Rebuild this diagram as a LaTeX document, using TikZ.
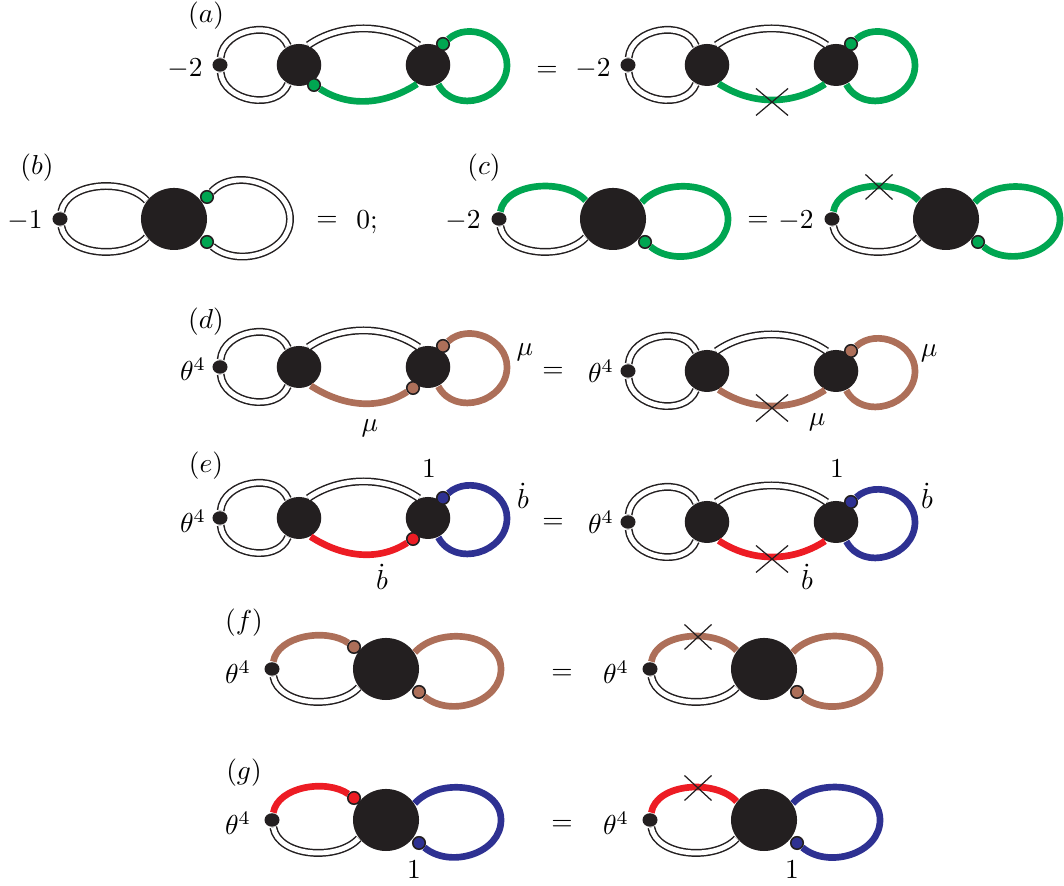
\documentclass[tikz,border=0pt]{standalone}
\usepackage{amsmath}
\usetikzlibrary{shapes,positioning}
\definecolor{ink}{HTML}{231F20}
\definecolor{sgreen}{HTML}{00A651}
\definecolor{sbrown}{HTML}{AD6F59}
\definecolor{sred}{HTML}{ED1C24}
\definecolor{sblue}{HTML}{2E3192}

\tikzstyle{vdot}=[ellipse,fill=ink,inner sep=0pt,minimum width=.15cm,minimum height=.135cm]
\tikzstyle{blob}=[ellipse,fill=ink,inner sep=0pt,minimum width=.445cm,minimum height=.42cm]
\tikzstyle{bigblob}=[ellipse,fill=ink,inner sep=0pt,minimum width=.66cm,minimum height=.62cm]
\tikzstyle{ins}=[circle,draw=ink,line width=.45pt,inner sep=0pt,minimum size=.125cm]
\tikzstyle{dbl}=[draw=ink,line width=.42pt,double=white,double distance=1.4pt]
\tikzstyle{heavy}=[line width=1.9pt]
\tikzstyle{txt}=[scale=.78,inner sep=0pt]
\tikzstyle{xmark}=[cross out,draw=ink,line width=.35pt,inner sep=0pt,outer sep=0pt,minimum width=.32cm,minimum height=.27cm]
\tikzstyle{xsmall}=[cross out,draw=ink,line width=.35pt,inner sep=0pt,outer sep=0pt,minimum width=.27cm,minimum height=.25cm]

\tikzstyle{smalltop}=[out=85,in=112,looseness=1.1]
\tikzstyle{smallbot}=[out=-85,in=-112,looseness=1.1]
\tikzstyle{midtop}=[out=35,in=145,looseness=.9]
\tikzstyle{midbot}=[out=-33,in=-147,looseness=.95]
\tikzstyle{arcin}=[out=42,in=90,looseness=1.1]
\tikzstyle{arcout}=[out=-90,in=-62,looseness=1.25]
\tikzstyle{bigtop}=[out=80,in=132,looseness=.9]
\tikzstyle{bigbot}=[out=-80,in=-132,looseness=.9]
\tikzstyle{instop}=[out=80,in=145,looseness=.88]
\tikzstyle{ellin}=[out=48,in=90,looseness=1.05]
\tikzstyle{ellout}=[out=-90,in=-40,looseness=1.05]

\begin{document}
\begin{tikzpicture}[x=.01cm,y=.01cm]
    \useasboundingbox (0,0) rectangle (1064,886);

    % (a)
    \node[txt](alabel) at (206,870){$(a)$};
    \node[txt](a1coef) at (185,817){$-2$};
    \node[vdot](a1dot) at (220,821){};
    \node[blob](a1l) at (299,821){};
    \node[blob](a1r) at (428,821){};
    \node[ins,fill=sgreen](a1low) at (314,801){};
    \node[ins,fill=sgreen](a1up) at (443,842){};
    \coordinate (a1far) at (507,821);
    \draw[dbl] (a1dot) to[smalltop] (a1l.120);
    \draw[dbl] (a1dot) to[smallbot] (a1l.-120);
    \draw[dbl] (a1l.65) to[midtop] (a1r.115);
    \draw[heavy,sgreen] (a1low) to[midbot] (a1r.-120);
    \draw[heavy,sgreen] (a1up) to[arcin] (a1far) to[arcout] (a1r.-62);
    \node[txt](aeq) at (547,815){$=$};

    \node[txt](a2coef) at (593,817){$-2$};
    \node[vdot](a2dot) at (628,821){};
    \node[blob](a2l) at (707,821){};
    \node[blob](a2r) at (836,821){};
    \node[ins,fill=sgreen](a2up) at (851,842){};
    \coordinate (a2far) at (915,821);
    \draw[dbl] (a2dot) to[smalltop] (a2l.120);
    \draw[dbl] (a2dot) to[smallbot] (a2l.-120);
    \draw[dbl] (a2l.65) to[midtop] (a2r.115);
    \draw[heavy,sgreen] (a2l.-58) to[midbot] (a2r.-120);
    \draw[heavy,sgreen] (a2up) to[arcin] (a2far) to[arcout] (a2r.-62);
    \node[xmark](a2x) at (772,784){};

    % (b)
    \node[txt](blabel) at (37,718){$(b)$};
    \node[txt](bcoef) at (25,665){$-1$};
    \node[vdot](bdot) at (60,667){};
    \node[bigblob](bb) at (174,667){};
    \node[ins,fill=sgreen](bup) at (207,689){};
    \node[ins,fill=sgreen](blow) at (207,644){};
    \coordinate (bfar) at (290,667);
    \draw[dbl] (bdot) to[bigtop] (bb.146);
    \draw[dbl] (bdot) to[bigbot] (bb.-146);
    \draw[dbl] (bup) to[ellin] (bfar) to[ellout] (blow);
    \node[txt](beq) at (327,665){$=$};
    \node[txt](bres) at (367,664){$0;$};

    % (c)
    \node[txt](clabel) at (484,718){$(c)$};
    \node[txt](c1coef) at (463,665){$-2$};
    \node[vdot](c1dot) at (499,667){};
    \node[bigblob](c1b) at (613,667){};
    \node[ins,fill=sgreen](c1low) at (645,644){};
    \coordinate (c1far) at (728,667);
    \draw[heavy,sgreen] (c1dot) to[bigtop] (c1b.146);
    \draw[dbl] (c1dot) to[bigbot] (c1b.-146);
    \draw[heavy,sgreen] (c1b.30) to[ellin] (c1far) to[ellout] (c1low);
    \node[txt](ceq) at (758,665){$=$};

    \node[txt](c2coef) at (796,665){$-2$};
    \node[vdot](c2dot) at (832,667){};
    \node[bigblob](c2b) at (946,667){};
    \node[ins,fill=sgreen](c2low) at (978,644){};
    \coordinate (c2far) at (1060,667);
    \draw[heavy,sgreen] (c2dot) to[bigtop] (c2b.146);
    \draw[dbl] (c2dot) to[bigbot] (c2b.-146);
    \draw[heavy,sgreen] (c2b.30) to[ellin] (c2far) to[ellout] (c2low);
    \node[xsmall](c2x) at (879,699){};

    % (d)
    \node[txt](dlabel) at (206,564){$(d)$};
    \node[txt](d1coef) at (193,517){$\theta^4$};
    \node[vdot](d1dot) at (220,519){};
    \node[blob](d1l) at (299,519){};
    \node[blob](d1r) at (428,519){};
    \node[ins,fill=sbrown](d1low) at (413,498){};
    \node[ins,fill=sbrown](d1up) at (443,540){};
    \coordinate (d1far) at (507,519);
    \draw[dbl] (d1dot) to[smalltop] (d1l.120);
    \draw[dbl] (d1dot) to[smallbot] (d1l.-120);
    \draw[dbl] (d1l.65) to[midtop] (d1r.115);
    \draw[heavy,sbrown] (d1l.-58) to[midbot] (d1low);
    \draw[heavy,sbrown] (d1up) to[arcin] (d1far) to[arcout] (d1r.-62);
    \node[txt](d1mu) at (525,534){$\mu$};
    \node[txt](d1mulow) at (370,458){$\mu$};
    \node[txt](deq) at (553,514){$=$};

    \node[txt](d2coef) at (601,515){$\theta^4$};
    \node[vdot](d2dot) at (628,515){};
    \node[blob](d2l) at (707,515){};
    \node[blob](d2r) at (836,515){};
    \node[ins,fill=sbrown](d2up) at (851,535){};
    \coordinate (d2far) at (915,515);
    \draw[dbl] (d2dot) to[smalltop] (d2l.120);
    \draw[dbl] (d2dot) to[smallbot] (d2l.-120);
    \draw[dbl] (d2l.65) to[midtop] (d2r.115);
    \draw[heavy,sbrown] (d2l.-58) to[midbot] (d2r.-120);
    \draw[heavy,sbrown] (d2up) to[arcin] (d2far) to[arcout] (d2r.-62);
    \node[xmark](d2x) at (772,478){};
    \node[txt](d2mu) at (929,533){$\mu$};
    \node[txt](d2mulow) at (817,464){$\mu$};

    % (e)
    \node[txt](elabel) at (206,420){$(e)$};
    \node[txt](e1coef) at (193,365){$\theta^4$};
    \node[vdot](e1dot) at (220,368){};
    \node[blob](e1l) at (299,368){};
    \node[blob](e1r) at (428,368){};
    \node[ins,fill=sred](e1low) at (413,347){};
    \node[ins,fill=sblue](e1up) at (443,388){};
    \coordinate (e1far) at (507,368);
    \draw[dbl] (e1dot) to[smalltop] (e1l.120);
    \draw[dbl] (e1dot) to[smallbot] (e1l.-120);
    \draw[dbl] (e1l.65) to[midtop] (e1r.115);
    \draw[heavy,sred] (e1l.-58) to[midbot] (e1low);
    \draw[heavy,sblue] (e1up) to[arcin] (e1far) to[arcout] (e1r.-62);
    \node[txt](e1one) at (429,417){$1$};
    \node[txt](e1bdot) at (523,390){$\dot b$};
    \node[txt](e1bdotlow) at (382,309){$\dot b$};
    \node[txt](eeq) at (553,363){$=$};

    \node[txt](e2coef) at (601,364){$\theta^4$};
    \node[vdot](e2dot) at (628,364){};
    \node[blob](e2l) at (707,364){};
    \node[blob](e2r) at (836,364){};
    \node[ins,fill=sblue](e2up) at (851,384){};
    \coordinate (e2far) at (915,364);
    \draw[dbl] (e2dot) to[smalltop] (e2l.120);
    \draw[dbl] (e2dot) to[smallbot] (e2l.-120);
    \draw[dbl] (e2l.65) to[midtop] (e2r.115);
    \draw[heavy,sred] (e2l.-58) to[midbot] (e2r.-120);
    \draw[heavy,sblue] (e2up) to[arcin] (e2far) to[arcout] (e2r.-62);
    \node[xmark](e2x) at (772,327){};
    \node[txt](e2one) at (837,417){$1$};
    \node[txt](e2bdot) at (927,390){$\dot b$};
    \node[txt](e2bdotlow) at (807,309){$\dot b$};

    % (f)
    \node[txt](flabel) at (244,263){$(f)$};
    \node[txt](f1coef) at (238,214){$\theta^4$};
    \node[vdot](f1dot) at (272,217){};
    \node[bigblob](f1b) at (386,217){};
    \node[ins,fill=sbrown](f1up) at (354,239){};
    \node[ins,fill=sbrown](f1low) at (419,194){};
    \coordinate (f1far) at (501,217);
    \draw[heavy,sbrown] (f1dot) to[instop] (f1up);
    \draw[dbl] (f1dot) to[bigbot] (f1b.-146);
    \draw[heavy,sbrown] (f1b.30) to[ellin] (f1far) to[ellout] (f1low);
    \node[txt](feq) at (562,212){$=$};

    \node[txt](f2coef) at (616,214){$\theta^4$};
    \node[vdot](f2dot) at (650,217){};
    \node[bigblob](f2b) at (764,217){};
    \node[ins,fill=sbrown](f2low) at (797,194){};
    \coordinate (f2far) at (880,217);
    \draw[heavy,sbrown] (f2dot) to[bigtop] (f2b.146);
    \draw[dbl] (f2dot) to[bigbot] (f2b.-146);
    \draw[heavy,sbrown] (f2b.30) to[ellin] (f2far) to[ellout] (f2low);
    \node[xsmall](f2x) at (698,249){};

    % (g)
    \node[txt](glabel) at (244,113){$(g)$};
    \node[txt](g1coef) at (238,63){$\theta^4$};
    \node[vdot](g1dot) at (272,66){};
    \node[bigblob](g1b) at (386,66){};
    \node[ins,fill=sred](g1up) at (354,88){};
    \node[ins,fill=sblue](g1low) at (419,43){};
    \coordinate (g1far) at (501,66);
    \draw[heavy,sred] (g1dot) to[instop] (g1up);
    \draw[dbl] (g1dot) to[bigbot] (g1b.-146);
    \draw[heavy,sblue] (g1b.30) to[ellin] (g1far) to[ellout] (g1low);
    \node[txt](g1one) at (414,16){$1$};
    \node[txt](geq) at (562,61){$=$};

    \node[txt](g2coef) at (616,63){$\theta^4$};
    \node[vdot](g2dot) at (650,66){};
    \node[bigblob](g2b) at (764,66){};
    \node[ins,fill=sblue](g2low) at (797,43){};
    \coordinate (g2far) at (880,66);
    \draw[heavy,sred] (g2dot) to[bigtop] (g2b.146);
    \draw[dbl] (g2dot) to[bigbot] (g2b.-146);
    \draw[heavy,sblue] (g2b.30) to[ellin] (g2far) to[ellout] (g2low);
    \node[xsmall](g2x) at (698,98){};
    \node[txt](g2one) at (792,16){$1$};
\end{tikzpicture}
\end{document}
